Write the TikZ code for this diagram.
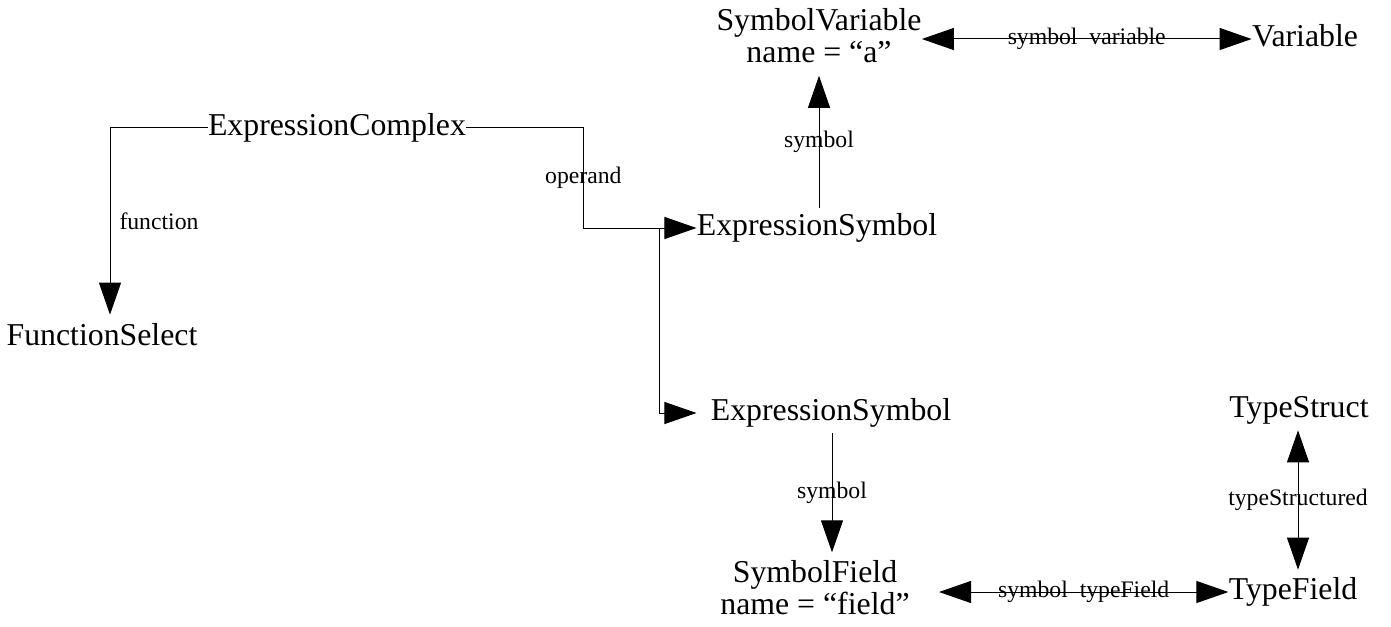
\documentclass[tikz,border=0pt]{standalone}
\usepackage{fontspec}
\setmainfont{Liberation Serif}
\usetikzlibrary{arrows.meta,calc}
\tikzset{
    % Class names, objects with a name line, and the role names on the links
    class node/.style={inner sep=0pt,font=\fontsize{15.9pt}{16pt}\selectfont,text height=10.97pt,text depth=3.5pt},
    object node/.style={inner sep=0pt,font=\fontsize{15.9pt}{16pt}\selectfont,align=center},
    role/.style={inner sep=0pt,font=\fontsize{11.85pt}{12pt}\selectfont},
    link/.style={line width=.5pt,-{Triangle[length=16pt,width=11pt]}},
    both link/.style={line width=.5pt,{Triangle[length=16pt,width=11pt]}-{Triangle[length=16pt,width=11pt]}}
    }

\begin{document}
\begin{tikzpicture}[x=.5pt,y=-.5pt] % one unit per pixel, y going down
    \useasboundingbox (0,0) rectangle (1391,626);
    % The classes
    \node(ec)[class node] at (337,128) {ExpressionComplex};
    \node(fs)[class node] at (102,338) {FunctionSelect};
    \node(es1)[class node] at (817,228) {ExpressionSymbol};
    \node(es2)[class node] at (831,413) {ExpressionSymbol};
    \node(sv)[object node] at (819,35.6) {SymbolVariable\\name = “a”};
    \node(var)[class node] at (1305,39) {Variable};
    \node(sf)[object node] at (815,587.6) {SymbolField\\name = “field”};
    \node(tf)[class node] at (1293,592) {TypeField};
    \node(ts)[class node] at (1299,410) {TypeStruct};
    % The links
    \draw[link] (ec.west) -| node[role,right=4.5pt,pos=.75]{function} ($(fs.north)+(8,-8.5)$);
    \draw[link] (ec.east) -- ++(117,0) |- node[role,pos=.25]{operand} (es1.west);
    \draw[link] (ec.east) -- ++(117,0) -- ++(0,100) -- ++(76,0) |- ($(es2.west)+(-14,0)$); % second operand
    \draw[link] ($(es1.north)+(2,-5.5)$) -- node[role]{symbol} ($(es1.north |- sv.south)+(2,12.6)$);
    \draw[both link] (sv.east |- var.west) -- node[role]{symbol\ \ variable} (var.west);
    \draw[link] ($(es2.south)+(1,5.5)$) -- node[role]{symbol} ($(es2.south |- sf.north)+(1,-7.7)$);
    \draw[both link] ($(sf.east |- tf.west)+(29,0)$) -- node[role]{symbol\ \ typeField} (tf.west);
    \draw[both link] ($(ts.south)+(-1,5.5)$) -- node[role]{typeStructured} ($(tf.north)+(5,-7.5)$);
\end{tikzpicture}
\end{document}
